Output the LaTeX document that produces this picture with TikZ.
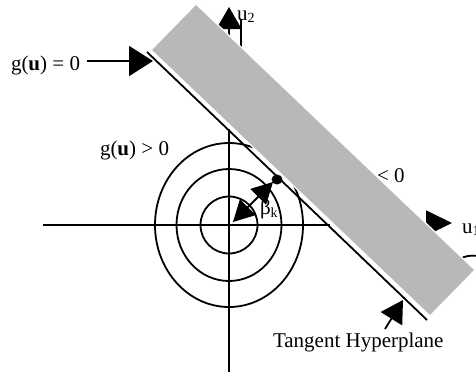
\documentclass[tikz,border=0pt]{standalone}
\usepackage{fontspec}
\setmainfont{Liberation Serif}
\usetikzlibrary{arrows.meta}
\definecolor{bandgray}{RGB}{184,184,184}
\tikzset{
  ln/.style={line width=1.8pt, black},
  lbl/.style={inner sep=0pt, outer sep=0pt, font=\fontsize{21}{24}\selectfont, anchor=base west},
  bigtip/.style={-{Triangle[length=24pt,width=30pt]}},
  midtip/.style={-{Triangle[length=22pt,width=25pt]}},
}
\newcommand{\subsc}[1]{\raisebox{-3pt}{\fontsize{14}{14}\selectfont #1}}
\begin{document}
\begin{tikzpicture}[x=1pt,y=-1pt]
\useasboundingbox (0,0) rectangle (476,378);
% circles / ellipses
\coordinate (O) at (229,225);
\draw[ln] (O) circle [radius=28.5];
\draw[ln] (O) ellipse [x radius=52.5, y radius=56];
\draw[ln] (O) ellipse [x radius=74, y radius=82];
% axes
\coordinate (xl) at (43,225);
\coordinate (xr) at (330,225);
\coordinate (yb) at (229,372);
\coordinate (yt) at (229,129);
\draw[ln] (xl) -- (xr);
\draw[ln] (yb) -- (yt);
% axis arrows (partly under band)
\coordinate (u2s) at (229,40);
\coordinate (u2t) at (229,7);
\draw[ln, midtip] (u2s) -- (u2t);
\coordinate (u1s) at (415,223);
\coordinate (u1t) at (452,223);
\draw[ln, -{Triangle[length=26pt,width=25pt]}] (u1s) -- (u1t);
\coordinate (st1) at (241,20);
\coordinate (st2) at (241,48);
\draw[ln] (st1) -- (st2);
\draw[ln] (460,259) .. controls (465,256) and (470,255) .. (478,256);
% hidden part of label
\node[lbl] (gneg) at (335.6,182) {g(\textbf{u}) < 0};
% band
\fill[bandgray, draw=white, line width=1.2pt] (151,50) -- (196,4) -- (475,270) -- (430,316) -- cycle;
% tangent line
\coordinate (t1) at (147,52);
\coordinate (t2) at (427,320);
\draw[ln] (t1) -- (t2);
% design point
\fill (277,179.5) ellipse [x radius=5.5, y radius=5];
\coordinate (b1) at (233,222);
\coordinate (b2) at (273,182);
\draw[ln, {Triangle[length=21pt,width=22pt]}-{Triangle[length=21pt,width=22pt]}] (b1) -- (b2);
% labels
\node[lbl] (gzero) at (11,70) {g(\textbf{u}) = 0};
\coordinate (gtip) at (153,61);
\draw[ln, bigtip] (87,61) -- (gtip);
\node[lbl] (gpos) at (100,155) {g(\textbf{u}) > 0};
\node[lbl] (beta) at (260,214) {β\subsc{k}};
\node[lbl] (u2) at (237,20) {u\raisebox{-2pt}{\fontsize{14}{14}\selectfont 2}};
\node[lbl] (u1) at (462,233) {u\raisebox{-2pt}{\fontsize{14}{14}\selectfont 1}};
\node[lbl] (tang) at (273,347) {Tangent Hyperplane};
\coordinate (tatail) at (385,329);
\coordinate (tatip) at (403,300);
\draw[ln, midtip] (tatail) -- (tatip);
\end{tikzpicture}
\end{document}
